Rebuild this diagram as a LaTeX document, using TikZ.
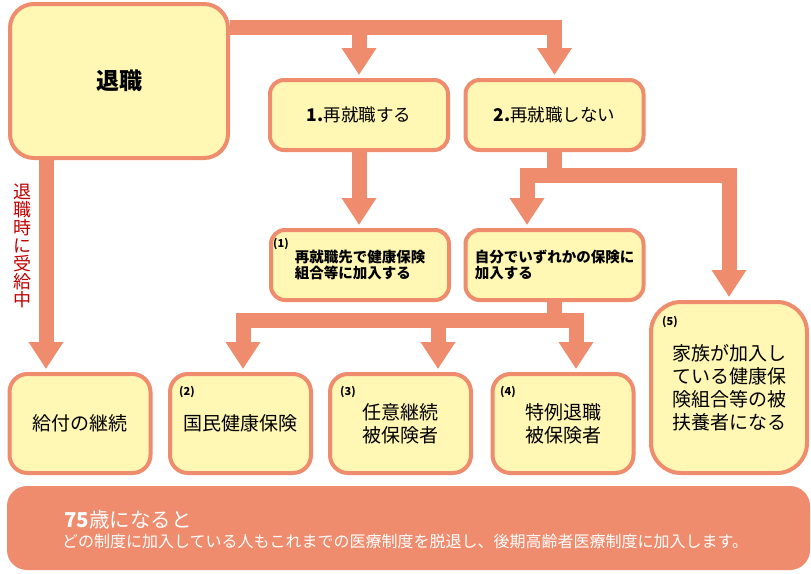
\documentclass[tikz,border=0pt]{standalone}
\usepackage{fontspec}
\setmainfont{Noto Sans CJK JP}
\usetikzlibrary{arrows.meta}
\definecolor{sal}{HTML}{F08C6E}
\definecolor{yel}{HTML}{FFF7B3}
\definecolor{dred}{HTML}{C00000}
\begin{document}
\begin{tikzpicture}[x=1pt,y=-1pt,
  box/.style={draw=sal, fill=yel, line width=4pt, rounded corners=18pt, inner sep=0pt, align=center},
  topbox/.style={box, rounded corners=14pt, minimum width=178pt, minimum height=70pt},
  lowbox/.style={box, minimum width=141pt, minimum height=99pt, font=\fontsize{19}{23}\selectfont},
  flow/.style={draw=sal, line width=15pt, -{Triangle[width=33pt,length=27pt]}, shorten >=3pt},
  lab/.style={anchor=west, inner sep=0pt, font=\fontsize{11}{12}\selectfont\bfseries},
  small/.style={font=\fontsize{14.5}{16.5}\selectfont\bfseries, align=left}]
\useasboundingbox (0,0) rectangle (811,573);
\fill[white] (0,0) rectangle (811,573);
% boxes
\node[box, rounded corners=24pt, minimum width=218pt, minimum height=154pt,
  font=\fontsize{23}{26}\selectfont\bfseries] (ret) at (119,81) {退職};
\node[topbox, font=\fontsize{17.5}{20}\selectfont] (b1) at (359,115) {\textbf{1.}再就職する};
\node[topbox, font=\fontsize{17.5}{20}\selectfont] (b2) at (554.5,115) {\textbf{2.}再就職しない};
\node[topbox, small] (b3) at (360,265) {再就職先で健康保険\\組合等に加入する};
\node[topbox, small] (b4) at (554.5,265) {自分でいずれかの保険に\\加入する};
\node[lowbox] (b5) at (80,423.5) {給付の継続};
\node[lowbox] (b6) at (240.5,423.5) {国民健康保険};
\node[lowbox] (b7) at (400.5,423.5) {任意継続\\被保険者};
\node[lowbox] (b8) at (563,423.5) {特例退職\\被保険者};
\node[box, rounded corners=30pt, minimum width=156pt, minimum height=171pt,
  font=\fontsize{19}{23}\selectfont] (b9) at (729,387.5) {家族が加入し\\ている健康保\\険組合等の被\\扶養者になる};
% labels
\node[lab] (l1) at (273,244) {(1)};
\node[lab] (l2) at (179,392) {(2)};
\node[lab] (l3) at (340,392) {(3)};
\node[lab] (l4) at (500,392) {(4)};
\node[lab] (l5) at (662,322) {(5)};
% side text
\node[text=dred, font=\fontsize{18}{18}\selectfont, align=center, inner sep=0pt] (side) at (22,246)
  {退\\職\\時\\に\\受\\給\\中};
% connectors
\draw[flow] (ret.east |- 0,27) -| (b2.north);
\draw[flow] (b1.north |- 0,27) -- (b1.north);
\draw[flow] (ret.south -| 46,0) -- (b5.north -| 46,0);
\draw[flow] (b1.south) -- (b3.north -| b1.south);
\coordinate (j2) at (554.5,175);
\draw[flow] (b2.south) -- (j2) -| (b4.north -| 527,0);
\draw[flow] (j2) -| (b9.north);
\coordinate (j4) at (554.5,320.5);
\coordinate (s7) at (438,320.5);
\draw[flow] (b4.south) -- (j4) -| (b6.north -| 243,0);
\draw[flow] (j4) -| (b8.north -| 576,0);
\draw[flow] (s7) -- (b7.north -| s7);
% bottom band
\node[fill=sal, rounded corners=20pt, minimum width=803pt, minimum height=84pt, inner sep=0pt] (band) at (408.5,528) {};
\node[anchor=west, text=white, inner sep=0pt, font=\fontsize{20.5}{24}\selectfont] (t75) at (64,520) {\textbf{75}歳になると};
\node[anchor=west, text=white, inner sep=0pt, font=\fontsize{16}{18}\selectfont] (tall) at (62,541)
  {どの制度に加入している人もこれまでの医療制度を脱退し、後期高齢者医療制度に加入します。};
\end{tikzpicture}
\end{document}
